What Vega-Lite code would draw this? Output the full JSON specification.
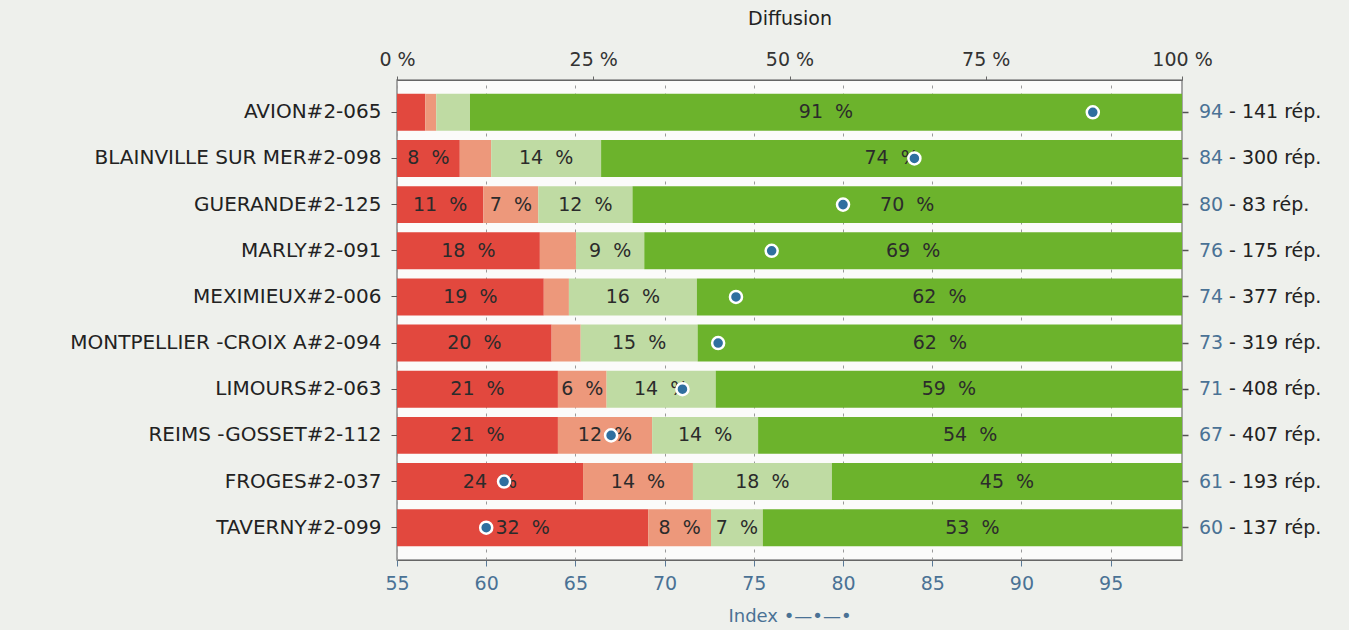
{
  "$schema": "https://vega.github.io/schema/vega-lite/v6.json",
  "width": 785,
  "height": 480,
  "autosize": "none",
  "padding": {"left": 397, "top": 80, "right": 167, "bottom": 70},
  "background": "#eef0ec",
  "config": {
    "font": "DejaVu Sans",
    "view": {"fill": "#fbfbfa", "stroke": "#8a8a8a", "strokeWidth": 1.5}
  },
  "datasets": {
    "seg": [
      {"site": "AVION#2-065", "cat": 1, "value": 3.6},
      {"site": "AVION#2-065", "cat": 2, "value": 1.4},
      {"site": "AVION#2-065", "cat": 3, "value": 4.3},
      {"site": "AVION#2-065", "cat": 4, "value": 90.7},
      {"site": "BLAINVILLE SUR MER#2-098", "cat": 1, "value": 8},
      {"site": "BLAINVILLE SUR MER#2-098", "cat": 2, "value": 4},
      {"site": "BLAINVILLE SUR MER#2-098", "cat": 3, "value": 14},
      {"site": "BLAINVILLE SUR MER#2-098", "cat": 4, "value": 74},
      {"site": "GUERANDE#2-125", "cat": 1, "value": 11},
      {"site": "GUERANDE#2-125", "cat": 2, "value": 7},
      {"site": "GUERANDE#2-125", "cat": 3, "value": 12},
      {"site": "GUERANDE#2-125", "cat": 4, "value": 70},
      {"site": "MARLY#2-091", "cat": 1, "value": 18.2},
      {"site": "MARLY#2-091", "cat": 2, "value": 4.6},
      {"site": "MARLY#2-091", "cat": 3, "value": 8.7},
      {"site": "MARLY#2-091", "cat": 4, "value": 68.5},
      {"site": "MEXIMIEUX#2-006", "cat": 1, "value": 18.7},
      {"site": "MEXIMIEUX#2-006", "cat": 2, "value": 3.2},
      {"site": "MEXIMIEUX#2-006", "cat": 3, "value": 16.3},
      {"site": "MEXIMIEUX#2-006", "cat": 4, "value": 61.8},
      {"site": "MONTPELLIER -CROIX A#2-094", "cat": 1, "value": 19.7},
      {"site": "MONTPELLIER -CROIX A#2-094", "cat": 2, "value": 3.7},
      {"site": "MONTPELLIER -CROIX A#2-094", "cat": 3, "value": 14.9},
      {"site": "MONTPELLIER -CROIX A#2-094", "cat": 4, "value": 61.7},
      {"site": "LIMOURS#2-063", "cat": 1, "value": 20.5},
      {"site": "LIMOURS#2-063", "cat": 2, "value": 6.2},
      {"site": "LIMOURS#2-063", "cat": 3, "value": 13.9},
      {"site": "LIMOURS#2-063", "cat": 4, "value": 59.4},
      {"site": "REIMS -GOSSET#2-112", "cat": 1, "value": 20.5},
      {"site": "REIMS -GOSSET#2-112", "cat": 2, "value": 12},
      {"site": "REIMS -GOSSET#2-112", "cat": 3, "value": 13.5},
      {"site": "REIMS -GOSSET#2-112", "cat": 4, "value": 54},
      {"site": "FROGES#2-037", "cat": 1, "value": 23.7},
      {"site": "FROGES#2-037", "cat": 2, "value": 14},
      {"site": "FROGES#2-037", "cat": 3, "value": 17.7},
      {"site": "FROGES#2-037", "cat": 4, "value": 44.6},
      {"site": "TAVERNY#2-099", "cat": 1, "value": 32},
      {"site": "TAVERNY#2-099", "cat": 2, "value": 8},
      {"site": "TAVERNY#2-099", "cat": 3, "value": 6.6},
      {"site": "TAVERNY#2-099", "cat": 4, "value": 53.4}
    ],
    "sites": [
      {"site": "AVION#2-065", "index": 94, "rep": 141},
      {"site": "BLAINVILLE SUR MER#2-098", "index": 84, "rep": 300},
      {"site": "GUERANDE#2-125", "index": 80, "rep": 83},
      {"site": "MARLY#2-091", "index": 76, "rep": 175},
      {"site": "MEXIMIEUX#2-006", "index": 74, "rep": 377},
      {"site": "MONTPELLIER -CROIX A#2-094", "index": 73, "rep": 319},
      {"site": "LIMOURS#2-063", "index": 71, "rep": 408},
      {"site": "REIMS -GOSSET#2-112", "index": 67, "rep": 407},
      {"site": "FROGES#2-037", "index": 61, "rep": 193},
      {"site": "TAVERNY#2-099", "index": 60, "rep": 137}
    ]
  },
  "layer": [
    {
      "data": {"name": "seg"},
      "layer": [
        {
          "mark": {"type": "bar"},
          "encoding": {
            "y": {
              "field": "site", "type": "nominal", "sort": null,
              "scale": {"paddingInner": 0.2, "paddingOuter": 0.3},
              "axis": {
                "title": null, "orient": "left", "domain": false,
                "tickSize": 6, "tickColor": "#555", "labelPadding": 10, "labelLimit": 400,
                "labelFont": "DejaVu Sans", "labelFontSize": 20, "labelColor": "#222"
              }
            },
            "x": {
              "field": "value", "type": "quantitative", "stack": "zero",
              "scale": {"domain": [0, 100], "nice": false},
              "axis": {
                "orient": "top", "title": "Diffusion", "values": [0, 25, 50, 75, 100],
                "labelExpr": "datum.value + ' %'", "grid": false, "domain": true, "labelFlush": false,
                "domainColor": "#666", "tickColor": "#666", "tickSize": 4,
                "labelPadding": 7, "labelFont": "DejaVu Sans", "labelFontSize": 19, "labelColor": "#333",
                "titleFont": "DejaVu Sans", "titleFontSize": 19, "titleFontWeight": "normal",
                "titleColor": "#222", "titlePadding": 22
              }
            },
            "color": {
              "field": "cat", "type": "ordinal",
              "scale": {"domain": [1, 2, 3, 4], "range": ["#e2483e", "#ed987b", "#bfdba3", "#6cb32c"]},
              "legend": null
            },
            "order": {"field": "cat", "type": "quantitative"}
          }
        },
        {
          "mark": {
            "type": "text", "font": "DejaVu Sans", "fontSize": 19, "color": "#2b2b2b",
            "baseline": "middle",
            "text": {"expr": "datum.value >= 5 ? format(datum.value, '.0f') + '\u00a0\u00a0%' : ''"}
          },
          "encoding": {
            "y": {"field": "site", "type": "nominal", "sort": null},
            "x": {"field": "value", "type": "quantitative", "stack": "zero", "bandPosition": 0.5},
            "detail": {"field": "cat"},
            "order": {"field": "cat", "type": "quantitative"}
          }
        }
      ]
    },
    {
      "data": {"name": "sites"},
      "layer": [
        {
          "mark": {"type": "point", "shape": "circle", "filled": true, "size": 145, "fill": "#2f6f9f", "stroke": "white", "strokeWidth": 2.5, "opacity": 1},
          "encoding": {
            "y": {"field": "site", "type": "nominal", "sort": null,
              "axis": {"orient": "right", "labels": false, "ticks": true, "title": null, "domain": false, "tickSize": 6, "tickColor": "#555", "tickWidth": 1.5}},
            "x": {
              "field": "index", "type": "quantitative",
              "scale": {"domain": [55, 99], "nice": false, "zero": false},
              "axis": {
                "orient": "bottom", "title": "Index •—•—•", "values": [55, 60, 65, 70, 75, 80, 85, 90, 95],
                "grid": true, "gridColor": "#9a9a9a", "gridDash": [3, 5], "gridWidth": 1, "labelFlush": false,
                "domain": true, "domainColor": "#666", "tickColor": "#5a7a98", "tickSize": 6,
                "labelPadding": 8, "labelFont": "DejaVu Sans", "labelFontSize": 19, "labelColor": "#4a7295",
                "titleFont": "DejaVu Sans", "titleFontSize": 18, "titleFontWeight": "normal",
                "titleColor": "#4a7295", "titlePadding": 14
              }
            }
          }
        },
        {
          "mark": {"type": "text", "align": "left", "baseline": "middle", "dx": 17, "font": "DejaVu Sans", "fontSize": 19, "color": "#4a7295"},
          "encoding": {
            "y": {"field": "site", "type": "nominal", "sort": null},
            "x": {"datum": 99, "type": "quantitative"},
            "text": {"field": "index"}
          }
        },
        {
          "mark": {"type": "text", "align": "left", "baseline": "middle", "dx": 47, "font": "DejaVu Sans", "fontSize": 19, "color": "#222",
            "text": {"expr": "'- ' + datum.rep + ' rép.'"}},
          "encoding": {
            "y": {"field": "site", "type": "nominal", "sort": null},
            "x": {"datum": 99, "type": "quantitative"}
          }
        }
      ]
    }
  ],
  "resolve": {"scale": {"x": "independent"}, "axis": {"y": "independent"}}
}
